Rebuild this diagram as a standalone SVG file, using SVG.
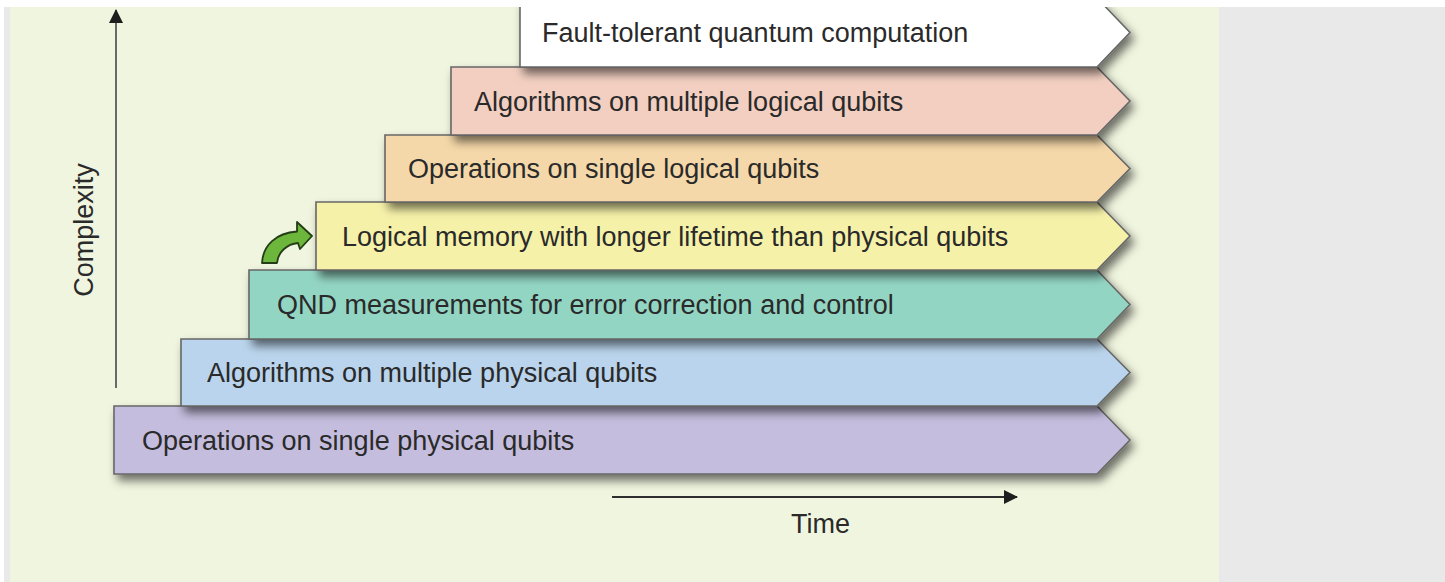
<svg xmlns="http://www.w3.org/2000/svg" width="1445" height="582" viewBox="0 0 1445 582">
  <defs>
    <clipPath id="panelClip">
      <rect x="10" y="7" width="1209" height="575"/>
    </clipPath>
    <filter id="shade" x="-5%" y="-30%" width="115%" height="190%">
      <feDropShadow dx="4" dy="6" stdDeviation="5" flood-color="#000" flood-opacity="0.55"/>
    </filter>
    <marker id="axisHead" viewBox="0 0 14 14" refX="13" refY="7" markerWidth="14" markerHeight="14" markerUnits="userSpaceOnUse" orient="auto">
      <path d="M0,0 L14,7 L0,14 Z" fill="#1e1e1e"/>
    </marker>
  </defs>
  <style>
    .band { stroke: #676767; stroke-width: 1.6; filter: url(#shade); }
    .label { font-family: "Liberation Sans", Arial, sans-serif; font-size: 27px; fill: #2a2a2a; }
    .axis { stroke: #6a6a6a; stroke-width: 2; fill: none; }
    .taxis { stroke: #2e2e2e; stroke-width: 2.2; fill: none; }
  </style>

  <!-- page surround -->
  <rect x="0" y="0" width="1445" height="582" fill="#ffffff"/>
  <rect x="4" y="7" width="1441" height="575" fill="#e9e9e9"/>
  <rect x="10" y="7" width="1209" height="575" fill="#f0f5df"/>

  <g clip-path="url(#panelClip)">
    <!-- steps, drawn bottom to top so each upper step shades the one below -->
    <g id="ops-physical">
      <polygon class="band" fill="#c4bddd" points="114,406 1097,406 1130,440 1097,474 114,474"/>
      <text class="label" x="142" y="450">Operations on single physical qubits</text>
    </g>
    <g id="alg-physical">
      <polygon class="band" fill="#b9d4ec" points="181,339 1097,339 1130,372.5 1097,406 181,406"/>
      <text class="label" x="207" y="382">Algorithms on multiple physical qubits</text>
    </g>
    <g id="qnd">
      <polygon class="band" fill="#93d5c3" points="249,270 1097,270 1130,304.5 1097,339 249,339"/>
      <text class="label" x="277" y="314">QND measurements for error correction and control</text>
    </g>
    <g id="logical-memory">
      <polygon class="band" fill="#f6f1a9" points="316,202 1097,202 1130,236 1097,270 316,270"/>
      <text class="label" x="342" y="246">Logical memory with longer lifetime than physical qubits</text>
    </g>
    <g id="ops-logical">
      <polygon class="band" fill="#f5d8a9" points="385,135 1097,135 1130,168.5 1097,202 385,202"/>
      <text class="label" x="408" y="178">Operations on single logical qubits</text>
    </g>
    <g id="alg-logical">
      <polygon class="band" fill="#f2cfc1" points="451,67 1097,67 1130,101 1097,135 451,135"/>
      <text class="label" x="474" y="111">Algorithms on multiple logical qubits</text>
    </g>
    <g id="fault-tolerant">
      <polygon class="band" fill="#ffffff" points="520,-2 1097,-2 1130,32.5 1097,67 520,67"/>
      <text class="label" x="542" y="42">Fault-tolerant quantum computation</text>
    </g>
  </g>

  <!-- milestone arrow -->
  <g id="milestone">
    <path d="M262,263 C263,245 276,233 297,231.5 L297,222 L312,236 L300,249 L298,243 C287,244 278,252 277,263 Z"
          fill="#6cb63c" stroke="#243d16" stroke-width="1.8" stroke-linejoin="round"/>
  </g>

  <!-- axes -->
  <g id="connectors">
    <line class="axis" x1="116" y1="388" x2="116" y2="10" marker-end="url(#axisHead)"/>
    <line class="taxis" x1="612" y1="497" x2="1017" y2="497" marker-end="url(#axisHead)"/>
  </g>

  <g id="axis-labels">
    <text class="label" transform="translate(93,230) rotate(-90)" text-anchor="middle">Complexity</text>
    <text class="label" x="791" y="533">Time</text>
  </g>
</svg>
